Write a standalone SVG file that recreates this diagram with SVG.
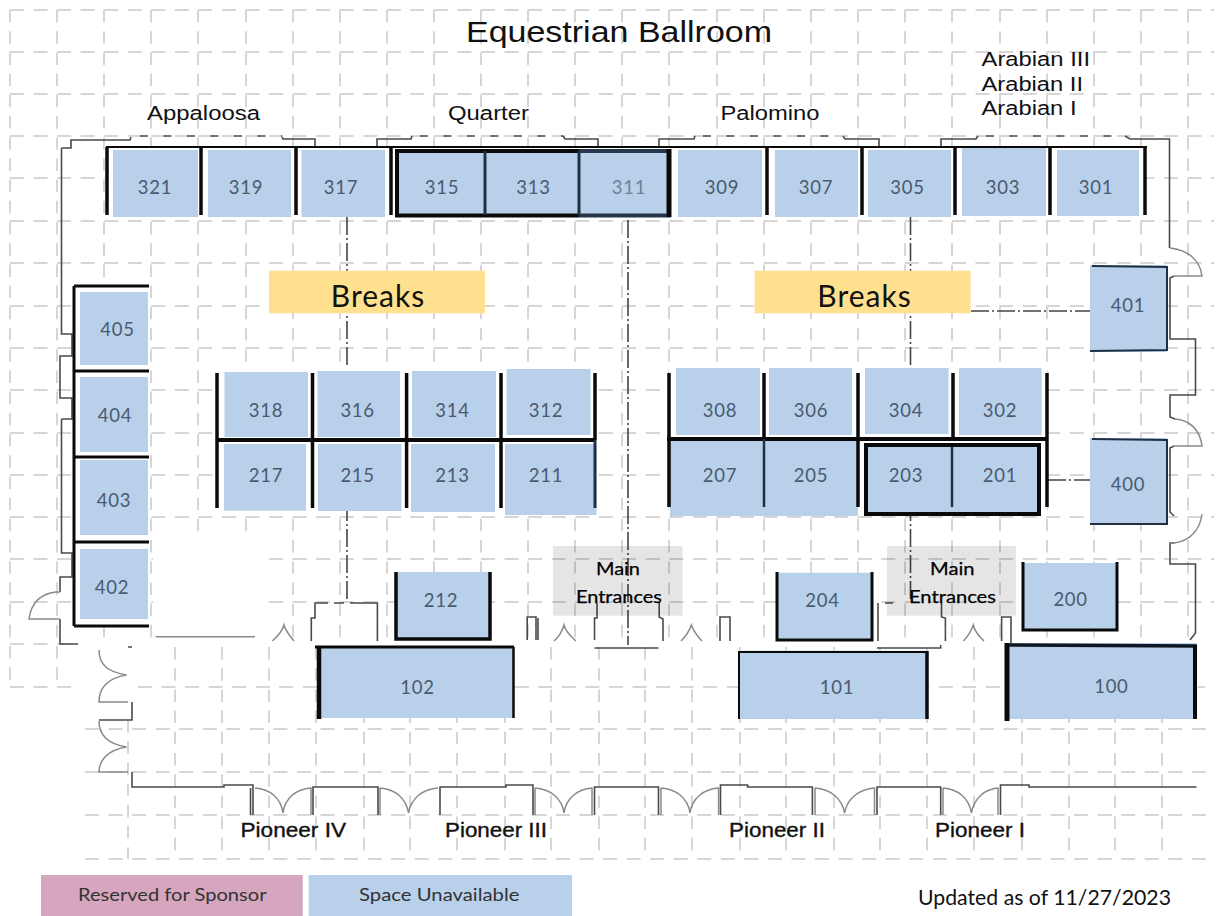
<svg xmlns="http://www.w3.org/2000/svg" width="1218" height="916" viewBox="0 0 1218 916">
<style>
.gh{fill:none;stroke:#d6d6d6;stroke-width:2;stroke-dasharray:14 9.55}
.gv{fill:none;stroke:#d6d6d6;stroke-width:2;stroke-dasharray:12.5 8.7}
.b{fill:#b8d0ea}
.n{font-family:Lato,"Liberation Sans",sans-serif;font-size:18.5px;fill:#4a5a70;text-anchor:middle;letter-spacing:.7px}
.k{fill:none;stroke:#0a0a0a;stroke-linecap:butt}
.d{fill:none;stroke:#1f3044}
.w{fill:none;stroke:#4a4a4a;stroke-width:1.6}
.a{fill:none;stroke:#8a8a8a;stroke-width:1.5}
.dd{fill:none;stroke:#444;stroke-width:1.6;stroke-dasharray:18 3 2 3}
.l{font-family:"Liberation Sans",Arial,sans-serif;font-size:20px;fill:#111}
.lb{font-family:"Liberation Sans",Arial,sans-serif;font-size:20px;fill:#111;stroke:#111;stroke-width:.35}
.e{font-family:Lato,"Liberation Sans",sans-serif;font-size:18px;fill:#000;stroke:#000;stroke-width:.25}
.br{font-family:Lato,"Liberation Sans",sans-serif;font-size:30px;fill:#111;text-anchor:middle;letter-spacing:1px}
.lg{font-family:Lato,"Liberation Sans",sans-serif;font-size:17px;fill:#333}
</style>
<rect width="1218" height="916" fill="#fff"/>
<g id="grid">
<path class="gh" d="M10 10H1214M10 52H1214M10 94H1214M10 136H1214M10 178H1214M10 221H1214M10 263H1214M10 306H1214M10 348H1214M10 390H1214M10 433H1214M10 475H1214M10 517H1214M10 559H1214M10 602H1214M10 644H78M10 687H72"/>
<path class="gv" d="M10 10V687M57 10V687M104 10V641M151 10V641M198 10V641M246 10V641M293 10V641M340 10V641M387 10V641M434 10V641M481 10V641M528 10V641M575 10V641M622 10V641M669 10V641M717 10V641M764 10V641M811 10V641M858 10V641M905 10V641M952 10V641M1000 10V641M1047 10V641M1094 10V641M1141 10V641M1188 10V641"/>
<rect x="153" y="534" width="108" height="103" fill="#fff"/>
<rect x="78" y="641" width="1140" height="6" fill="#fff"/>
<rect x="1192" y="628" width="26" height="20" fill="#fff"/>
<path class="gh" d="M138 687H1205M85 729H1207M85 772H1207M85 815H1207M85 859H1207"/>
<path class="gv" d="M128 720V859M175 647V859M222 647V859M269 647V859M316 647V859M364 647V859M410 647V859M457 647V859M505 647V859M551 647V859M599 647V859M645 647V859M692 647V859M740 647V859M786 647V859M834 647V859M880 647V859M927 647V859M974 647V859M1022 647V859M1069 647V859M1115 647V859M1162 647V859"/>
</g>
<g id="connectors">
<path class="dd" d="M347 217V602"/>
<path class="dd" d="M628 220V645"/>
<path class="dd" d="M910.500 217V600"/>
<path class="dd" d="M971 311H1090"/>
<path class="dd" d="M1048 480H1090"/>
</g>
<g id="backing" fill="#fff">
<rect x="106" y="147" width="1040" height="70"/>
<rect x="74" y="286" width="75" height="340"/>
<rect x="217" y="368" width="378" height="142"/>
<rect x="669" y="368" width="378" height="142"/>
</g>
<g id="walls">
<path class="w" d="M61.500 419V553H72V577H60V592M60 619V644H78"/>
<path class="w" d="M61.500 148H71V140H130L131 137M282 137L283 139H315V147M377 147V139H411L412 136M563 136L565 139H598V147M659 147V139H694L695 136M843 136L845 139H879V147M941 147V139H976L978 136M1125 136L1130 139H1169.500V248"/>
<path class="w" stroke-dasharray="8 15.500" d="M140 136H282M420 136H563M703 136H843M986 136H1125"/>
<path class="w" d="M61.500 148V334H72V356H60V398H72V419H61.500"/>
<path class="w" d="M1174 276L1170 278V339H1195.500V395H1170V417L1175 419M1174 446L1170 448V512L1174 516M1174 543H1170V564H1195.500V633L1190 640"/>
<path class="a" d="M1170 248C1188 250 1200 260 1202 276H1174M1175 419C1190 420 1200 430 1202 446H1174M1202 514C1200 530 1190 541 1174 543H1170M60 592H56C40 594 31 604 29 619H60"/>
<path class="w" d="M132 647H128M132 702V720H99M132 772V787H224V785H253V815M250.500 788V815M313 815V787H378V815M440 815V787H506V785H533V815M594.500 815V787H658.500V815M720.500 815V785H747.600V787H812.400V815M877 815V787H940.700V815M1000.500 815V785H1029V787H1196.600"/>
<path class="a" d="M99 650C99 665 108 672 126.500 675C108 678 99 688 99 702H128M99 721C99 736 108 744 126.500 747C108 750 99 760 99 772H128M255 788C270 789 281 798 283 813C285 798 296 789 311 788V815M380 788C395 789 406 798 408.600 813C411 798 423 789 438 788M535 788C550 789 562 798 564 813C566 798 578 789 592 788V815M661 788C676 789 688 798 690 813C692 798 704 789 718.600 788V815M815 788C830 789 842 798 844.600 813C847 798 860 789 874.500 788V815M943 788C958 789 969 798 971.400 813C974 798 985 789 998 788V815M380 788V815M535 788V815M661 788V815M815 788V815M943 788V815"/>
<path class="a" d="M155.600 636.700H255M272.400 641C278 636 282 632 284 625C286 632 290 636 294 641M554 641C560 636 562 632 564 625C566 632 570 636 576 641M681 641C686 636 689 632 691.400 625C694 632 697 636 702 641M963.600 641C968 636 971 632 973.300 625C975 632 979 636 984 641"/>
<path class="w" d="M311.300 641V618H315V603H328M334 603H344M350 603H377.400V641M527.200 640V617H536V640M538 640V618M594.500 640V618H597V603M594.500 648H658.500M659.200 602V617L663 619V641M720 641V617H730V641M878 603V641M885 603H893M877 648H940.700V645M941.500 603V617L945.400 618V641M1001.600 641V617H1011V643"/>
</g>
<g id="top-row-frame"><path class="k" stroke-width="2" d="M106 147H1147"/><path class="k" stroke-width="3.500" d="M107 147V215M201 147V215M296 147V215M391 147V215M767 147V215M862 147V215M955 147V215M1050 147V215M1145 147V215"/></g>
<g id="n321"><rect class="b" x="113" y="150" width="85" height="67"/><text class="n" x="155" y="194">321</text></g>
<g id="n319"><rect class="b" x="208" y="150" width="83" height="67"/><text class="n" x="246" y="194">319</text></g>
<g id="n317"><rect class="b" x="301.500" y="150" width="83.500" height="67"/><text class="n" x="341" y="194">317</text></g>
<g id="n315"><rect class="b" x="395" y="151" width="90" height="66"/><text class="n" x="442" y="194">315</text></g>
<g id="n313"><rect class="b" x="485" y="151" width="94" height="66"/><text class="n" x="533.500" y="194">313</text></g>
<g id="n311"><rect class="b" x="579" y="151" width="92" height="66"/><text class="n" x="629" y="194" style="fill:#6f8299">311</text></g>
<g id="group-315-311"><path class="k" stroke-width="4" d="M579 151H397V215.500H579"/><path stroke="#27364a" fill="none" stroke-width="4" d="M579 215.500H669V151H579"/><path class="k" stroke-width="5" d="M669 149V217"/><path class="d" stroke-width="3" d="M485 151V215M579 151V215"/></g>
<g id="n309"><rect class="b" x="678" y="150" width="84" height="67"/><text class="n" x="722" y="194">309</text></g>
<g id="n307"><rect class="b" x="775" y="150" width="83" height="67"/><text class="n" x="816" y="194">307</text></g>
<g id="n305"><rect class="b" x="868" y="150" width="83" height="67"/><text class="n" x="907.500" y="194">305</text></g>
<g id="n303"><rect class="b" x="962" y="148" width="84" height="68"/><text class="n" x="1003" y="194">303</text></g>
<g id="n301"><rect class="b" x="1057" y="150" width="82" height="66"/><text class="n" x="1096" y="194">301</text></g>
<g id="n318"><rect class="b" x="224.500" y="372" width="83.500" height="65"/><text class="n" x="266" y="416.700">318</text></g>
<g id="n316"><rect class="b" x="317.500" y="371" width="82.500" height="66"/><text class="n" x="357.600" y="416.700">316</text></g>
<g id="n314"><rect class="b" x="412" y="371" width="84" height="66"/><text class="n" x="452.500" y="416.700">314</text></g>
<g id="n312"><rect class="b" x="506.600" y="369" width="84" height="66"/><text class="n" x="546" y="416.700">312</text></g>
<g id="n217"><rect class="b" x="224" y="444" width="82" height="66.700"/><text class="n" x="266" y="481.700">217</text></g>
<g id="n215"><rect class="b" x="318" y="444" width="83.500" height="67"/><text class="n" x="357.600" y="481.700">215</text></g>
<g id="n213"><rect class="b" x="411" y="444" width="84" height="68"/><text class="n" x="452.500" y="481.700">213</text></g>
<g id="n211"><rect class="b" x="505" y="444" width="91.500" height="71"/><text class="n" x="546" y="481.700">211</text></g>
<g id="mid-left-frame"><path class="k" stroke-width="4" d="M216 440H595"/><path class="k" stroke-width="3.500" d="M217 373V508M312.500 373V508M406.600 373V508M501 373V508M595 373V440"/><path class="d" stroke-width="3" d="M595 440V508"/></g>
<g id="n308"><rect class="b" x="676" y="368" width="84" height="67"/><text class="n" x="720" y="416.700">308</text></g>
<g id="n306"><rect class="b" x="769" y="368" width="83" height="67"/><text class="n" x="811" y="416.700">306</text></g>
<g id="n304"><rect class="b" x="865" y="368" width="83.500" height="66"/><text class="n" x="906" y="416.700">304</text></g>
<g id="n302"><rect class="b" x="959" y="368" width="82.600" height="67"/><text class="n" x="1000" y="416.700">302</text></g>
<g id="n207"><rect class="b" x="670" y="440" width="94" height="76"/><text class="n" x="720" y="481.700">207</text></g>
<g id="n205"><rect class="b" x="764" y="440" width="94" height="76"/><text class="n" x="811" y="481.700">205</text></g>
<g id="n203"><rect class="b" x="864" y="443" width="88" height="72.600"/><text class="n" x="906" y="481.700">203</text></g>
<g id="n201"><rect class="b" x="952" y="443" width="89" height="72.600"/><text class="n" x="1000" y="481.700">201</text></g>
<g id="mid-right-frame"><path class="k" stroke-width="4" d="M667 439H1048"/><path class="k" stroke-width="3.500" d="M669 373V507M764 373V439M858 373V507M953 373V439M1047 373V507"/><path class="d" stroke-width="2.500" d="M764 439V507M952 443V507"/><rect x="866" y="445" width="173" height="69" fill="none" stroke="#0a0a0a" stroke-width="4"/></g>
<g id="n401"><rect class="b" x="1090" y="265" width="77" height="87"/><path class="d" stroke-width="2" d="M1092 266L1167 267V350L1090 351"/><text class="n" x="1128" y="311.700">401</text></g>
<g id="n400"><rect class="b" x="1090" y="438" width="76.500" height="87"/><path class="d" stroke-width="2" d="M1092 439L1167 440V524L1090 524"/><text class="n" x="1128" y="490.700">400</text></g>
<g id="left-frame"><path class="k" stroke-width="3" d="M74 286V626M74 286H149M74 371H149M74 457H149M74 542H149M74 626H149"/></g>
<g id="n405"><rect class="b" x="80" y="292" width="68" height="73"/><text class="n" x="117.500" y="336">405</text></g>
<g id="n404"><rect class="b" x="80" y="377" width="68" height="75"/><text class="n" x="115" y="422">404</text></g>
<g id="n403"><rect class="b" x="80" y="460" width="68" height="75"/><text class="n" x="114" y="506.700">403</text></g>
<g id="n402"><rect class="b" x="80" y="549" width="68" height="70"/><text class="n" x="112" y="594">402</text></g>
<g id="n212"><rect class="b" x="397" y="572" width="93" height="67"/><path class="k" stroke-width="3.500" d="M396 572V639H490V572"/><text class="n" x="441" y="606.700">212</text></g>
<g id="n204"><rect class="b" x="777" y="572.700" width="95.500" height="67.300"/><path class="k" stroke-width="3" d="M777 572V640H872V572"/><text class="n" x="822.500" y="606.700">204</text></g>
<g id="n200"><rect class="b" x="1022" y="563" width="96" height="67"/><path class="k" stroke-width="3" d="M1023 562V630H1117V562"/><text class="n" x="1070.600" y="606">200</text></g>
<g id="n102"><rect class="b" x="319" y="647" width="195" height="71"/><path class="k" stroke-width="3" d="M315 647H514"/><path class="k" stroke-width="4.500" d="M319 647V719"/><path class="k" stroke-width="2.500" d="M513.500 647V718"/><text class="n" x="417.500" y="694">102</text></g>
<g id="n101"><rect class="b" x="739" y="650.700" width="189" height="68.300"/><path class="k" stroke-width="2" d="M739 652H927M739 651V719"/><path class="k" stroke-width="3.500" d="M927 651V719"/><text class="n" x="837" y="694">101</text></g>
<g id="n100"><rect class="b" x="1005.500" y="643" width="191" height="76"/><path stroke="#0f1722" fill="none" stroke-width="3.500" d="M1005 645L1197 646"/><path class="k" stroke-width="5" d="M1007 643V721"/><path class="k" stroke-width="4" d="M1195 645V719"/><text class="n" x="1111.400" y="693">100</text></g>
<g id="breaks-1"><rect x="269" y="270.700" width="216" height="42.600" fill="#ffe08f"/><text class="br" x="378" y="307">Breaks</text></g>
<g id="breaks-2"><rect x="754.600" y="270.700" width="216" height="42.600" fill="#ffe08f"/><text class="br" x="864.500" y="307">Breaks</text></g>
<g id="entrance-1"><rect x="553" y="546" width="129.500" height="69.700" fill="#000" fill-opacity=".1"/><text class="e" x="596" y="575" textLength="44" lengthAdjust="spacingAndGlyphs">Main</text><text class="e" x="576" y="603" textLength="86" lengthAdjust="spacingAndGlyphs">Entrances</text></g>
<g id="entrance-2"><rect x="887" y="546" width="129" height="69.700" fill="#000" fill-opacity=".1"/><text class="e" x="930" y="575" textLength="44.500" lengthAdjust="spacingAndGlyphs">Main</text><text class="e" x="909" y="603" textLength="87" lengthAdjust="spacingAndGlyphs">Entrances</text></g>
<g id="labels">
<text class="l" x="466" y="42" style="font-size:29px" textLength="306" lengthAdjust="spacingAndGlyphs">Equestrian Ballroom</text>
<text class="l" x="147" y="120" textLength="113" lengthAdjust="spacingAndGlyphs">Appaloosa</text>
<text class="l" x="448" y="120" textLength="81" lengthAdjust="spacingAndGlyphs">Quarter</text>
<text class="l" x="720.500" y="120" textLength="99" lengthAdjust="spacingAndGlyphs">Palomino</text>
<text class="l" x="981.500" y="66" textLength="108.500" lengthAdjust="spacingAndGlyphs">Arabian III</text>
<text class="l" x="981.500" y="91" textLength="101.500" lengthAdjust="spacingAndGlyphs">Arabian II</text>
<text class="l" x="981.500" y="115" textLength="95" lengthAdjust="spacingAndGlyphs">Arabian I</text>
<text class="lb" x="240.500" y="837" textLength="105.500" lengthAdjust="spacingAndGlyphs">Pioneer IV</text>
<text class="lb" x="445" y="837" textLength="102" lengthAdjust="spacingAndGlyphs">Pioneer III</text>
<text class="lb" x="729" y="837" textLength="96" lengthAdjust="spacingAndGlyphs">Pioneer II</text>
<text class="lb" x="935" y="837" textLength="90" lengthAdjust="spacingAndGlyphs">Pioneer I</text>
</g>
<g id="legend-sponsor"><rect x="41" y="875" width="261.700" height="41" fill="#d5a6bd"/><text class="lg" x="78" y="900.500" textLength="188.500" lengthAdjust="spacingAndGlyphs">Reserved for Sponsor</text></g>
<g id="legend-unavailable"><rect x="308.600" y="875" width="263.400" height="41" fill="#b8d0ea"/><text class="lg" x="359" y="900.500" textLength="160.500" lengthAdjust="spacingAndGlyphs">Space Unavailable</text></g>
<text x="918" y="905" style="font-family:Lato,'Liberation Sans',sans-serif;font-size:21px;fill:#111" textLength="253" lengthAdjust="spacingAndGlyphs">Updated as of 11/27/2023</text>
</svg>
